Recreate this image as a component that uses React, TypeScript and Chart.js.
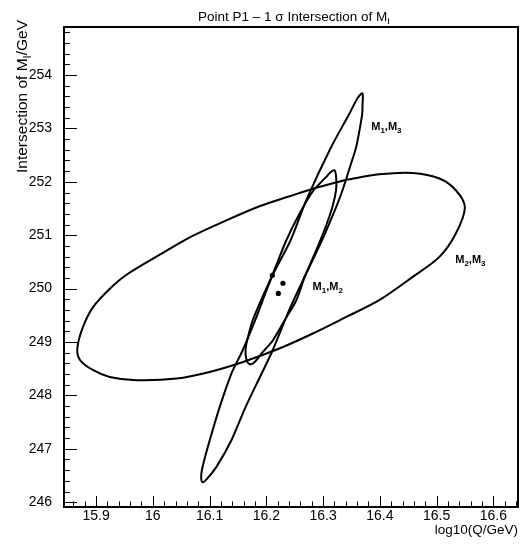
import React, { useEffect, useRef } from "react";
import { Chart, registerables } from "chart.js";

Chart.register(...registerables);

const FONT = "'Liberation Sans', Arial, Helvetica, sans-serif";

// Axis ranges and tick labels
const xMin = 15.8435;
const xMax = 16.6435;
const yMin = 245.91;
const yMax = 254.9;
const xMajorTicks = [15.9, 16, 16.1, 16.2, 16.3, 16.4, 16.5, 16.6];
const yMajorTicks = [246, 247, 248, 249, 250, 251, 252, 253, 254];
const xMinorStep = 0.02;
const yMinorStep = 0.2;

// 1 sigma contour M1,M3
const m1m3Contour: [number, number][] = [
  [16.2705, 250.289], [16.2428, 249.657], [16.2112, 248.846], [16.1918, 248.41],
  [16.1636, 247.785], [16.1385, 247.161], [16.1121, 246.661], [16.095, 246.431],
  [16.0875, 246.375], [16.0853, 246.506], [16.0897, 246.749], [16.1003, 247.161],
  [16.1179, 247.785], [16.1385, 248.41], [16.1584, 248.846], [16.1804, 249.408],
  [16.2103, 250.232], [16.2428, 250.906], [16.2705, 251.656], [16.3132, 252.629],
  [16.3466, 253.279], [16.3607, 253.566], [16.3695, 253.659], [16.3695, 253.435],
  [16.369, 253.279], [16.3642, 252.966], [16.3584, 252.654], [16.3484, 252.311],
  [16.3343, 251.843], [16.3232, 251.53], [16.2997, 250.944], [16.2705, 250.289],
];

// 1 sigma contour M1,M2
const m1m2Contour: [number, number][] = [
  [16.2675, 250.219], [16.2529, 249.783], [16.2323, 249.408], [16.2117, 249.034],
  [16.1936, 248.809], [16.1795, 248.627], [16.1707, 248.584], [16.1645, 248.697],
  [16.1636, 248.884], [16.1677, 249.096], [16.176, 249.408], [16.1883, 249.721],
  [16.2117, 250.283], [16.2353, 250.906], [16.2587, 251.406], [16.2821, 251.824],
  [16.3056, 252.092], [16.3132, 252.18], [16.3202, 252.217], [16.3232, 252.068],
  [16.3229, 251.843], [16.3173, 251.562], [16.3056, 251.187], [16.288, 250.719],
  [16.2675, 250.219],
];

// 1 sigma contour M2,M3
const m2m3Contour: [number, number][] = [
  [16.341, 252.039], [16.399, 252.142], [16.458, 252.167], [16.505, 252.062],
  [16.534, 251.843], [16.5499, 251.524], [16.534, 251.032], [16.505, 250.594],
  [16.458, 250.219], [16.399, 249.783], [16.341, 249.47], [16.282, 249.159],
  [16.223, 248.878], [16.159, 248.627], [16.1, 248.44], [16.042, 248.316],
  [15.971, 248.285], [15.924, 248.346], [15.895, 248.472], [15.872, 248.659],
  [15.867, 248.884], [15.877, 249.283], [15.895, 249.657], [15.9243, 249.998],
  [15.9537, 250.26], [16.0123, 250.635], [16.0709, 250.991], [16.13, 251.281],
  [16.188, 251.543], [16.241, 251.73], [16.282, 251.871], [16.341, 252.039],
];

// Central (intersection) points
const centreX = [16.2106, 16.2293, 16.2212];
const centreY = [250.25, 250.1, 249.91];

// Contour labels
const labelX = [16.385, 16.2816, 16.533];
const labelY = [253.04, 250.045, 250.55];
const labelParts: [string, boolean][][] = [
  [["M", false], ["1", true], [",M", false], ["3", true]],
  [["M", false], ["1", true], [",M", false], ["2", true]],
  [["M", false], ["2", true], [",M", false], ["3", true]],
];

const titleParts: [string, boolean][] = [["Point P1 \u2013 1 \u03c3 Intersection of M", false], ["I", true]];
const yTitleParts: [string, boolean][] = [["Intersection of M", false], ["I", true], ["/GeV", false]];
const xTitleParts: [string, boolean][] = [["log10(Q/GeV)", false]];

function richWidth(ctx: CanvasRenderingContext2D, parts: [string, boolean][], size: number, weight: string) {
  let w = 0;
  for (const [t, sub] of parts) {
    ctx.font = `${weight} ${sub ? size * 0.72 : size}px ${FONT}`;
    w += ctx.measureText(t).width;
  }
  return w;
}

function drawRich(ctx: CanvasRenderingContext2D, parts: [string, boolean][], x: number, y: number, size: number, weight: string) {
  let cx = x;
  ctx.textAlign = "left";
  ctx.textBaseline = "alphabetic";
  for (const [t, sub] of parts) {
    ctx.font = `${weight} ${sub ? size * 0.72 : size}px ${FONT}`;
    ctx.fillText(t, cx, sub ? y + size * 0.28 : y);
    cx += ctx.measureText(t).width;
  }
}

const decorPlugin = {
  id: "decor",
  afterDraw(chart: any) {
    const ctx: CanvasRenderingContext2D = chart.ctx;
    const { left, right, top, bottom } = chart.chartArea;
    const xs = chart.scales.x;
    const ys = chart.scales.y;
    ctx.save();
    ctx.strokeStyle = "#000";
    ctx.fillStyle = "#000";
    ctx.lineWidth = 1;
    ctx.beginPath();
    for (const v of xMajorTicks) {
      const p = Math.round(xs.getPixelForValue(v)) + 0.5;
      ctx.moveTo(p, bottom);
      ctx.lineTo(p, bottom - 11);
    }
    for (let i = Math.ceil(xMin / xMinorStep - 1e-9); i * xMinorStep <= xMax + 1e-9; i++) {
      const p = Math.round(xs.getPixelForValue(i * xMinorStep)) + 0.5;
      ctx.moveTo(p, bottom);
      ctx.lineTo(p, bottom - 5.5);
    }
    for (const v of yMajorTicks) {
      const p = Math.round(ys.getPixelForValue(v)) + 0.5;
      ctx.moveTo(left, p);
      ctx.lineTo(left + 13, p);
    }
    for (let i = Math.ceil(yMin / yMinorStep - 1e-9); i * yMinorStep <= yMax + 1e-9; i++) {
      const p = Math.round(ys.getPixelForValue(i * yMinorStep)) + 0.5;
      ctx.moveTo(left, p);
      ctx.lineTo(left + 6, p);
    }
    ctx.stroke();
    ctx.lineWidth = 2;
    ctx.strokeRect(left, top, right - left, bottom - top);

    // contour labels
    for (let i = 0; i < labelParts.length; i++) {
      const px = xs.getPixelForValue(labelX[i]);
      const py = ys.getPixelForValue(labelY[i]);
      drawRich(ctx, labelParts[i], px, py + 4, 11, "bold");
    }

    // title
    const tw = richWidth(ctx, titleParts, 13.5, "normal");
    drawRich(ctx, titleParts, 294 - tw / 2, 20.5, 13.5, "normal");

    // x title (right aligned)
    const xw = richWidth(ctx, xTitleParts, 13.5, "normal");
    drawRich(ctx, xTitleParts, right - xw, 534, 13.5, "normal");

    // y title (rotated, right aligned at top)
    const yw = richWidth(ctx, yTitleParts, 15.5, "normal");
    ctx.translate(27, 20);
    ctx.rotate(-Math.PI / 2);
    drawRich(ctx, yTitleParts, -yw, 0, 15.5, "normal");
    ctx.restore();
  },
};

export default function App() {
  const ref = useRef<HTMLCanvasElement | null>(null);
  useEffect(() => {
    if (!ref.current) return;
    const lineDs = (pts: [number, number][]) => ({
      type: "scatter" as const,
      data: pts.map(([x, y]) => ({ x, y })),
      showLine: true,
      borderColor: "#000",
      borderWidth: 2,
      pointRadius: 0,
      tension: 0.3,
      fill: false,
    });
    const chart = new Chart(ref.current, {
      type: "scatter",
      data: {
        datasets: [
          lineDs(m1m3Contour) as any,
          lineDs(m1m2Contour) as any,
          lineDs(m2m3Contour) as any,
          {
            data: centreX.map((x, i) => ({ x, y: centreY[i] })),
            pointRadius: 2.6,
            pointBackgroundColor: "#000",
            pointBorderWidth: 0,
            showLine: false,
          },
        ],
      },
      options: {
        responsive: false,
        animation: false,
        devicePixelRatio: 1,
        events: [],
        layout: { padding: { left: 0, right: 3, top: 27, bottom: 0 } },
        plugins: { legend: { display: false }, tooltip: { enabled: false }, title: { display: false } },
        scales: {
          x: {
            type: "linear",
            min: xMin,
            max: xMax,
            grid: { display: false, drawTicks: false },
            border: { display: false },
            afterFit: (s: any) => { s.height = 37; },
            afterBuildTicks: (s: any) => { s.ticks = xMajorTicks.map((v) => ({ value: v })); },
            ticks: {
              font: { family: FONT, size: 14 },
              color: "#000",
              padding: 1,
              maxRotation: 0,
              autoSkip: false,
              callback: (v: any) => String(Number(v)),
            },
          },
          y: {
            type: "linear",
            min: yMin,
            max: yMax,
            grid: { display: false, drawTicks: false },
            border: { display: false },
            afterFit: (s: any) => { s.width = 64; },
            afterBuildTicks: (s: any) => { s.ticks = yMajorTicks.map((v) => ({ value: v })); },
            ticks: {
              font: { family: FONT, size: 14 },
              color: "#000",
              padding: 12,
              autoSkip: false,
              callback: (v: any) => String(Number(v)),
            },
          },
        },
      },
      plugins: [decorPlugin],
    });
    return () => chart.destroy();
  }, []);
  return (
    <div style={{ position: "fixed", left: 0, top: 0, width: 522, height: 544, background: "#fff" }}>
      <canvas ref={ref} width={522} height={544} />
    </div>
  );
}
